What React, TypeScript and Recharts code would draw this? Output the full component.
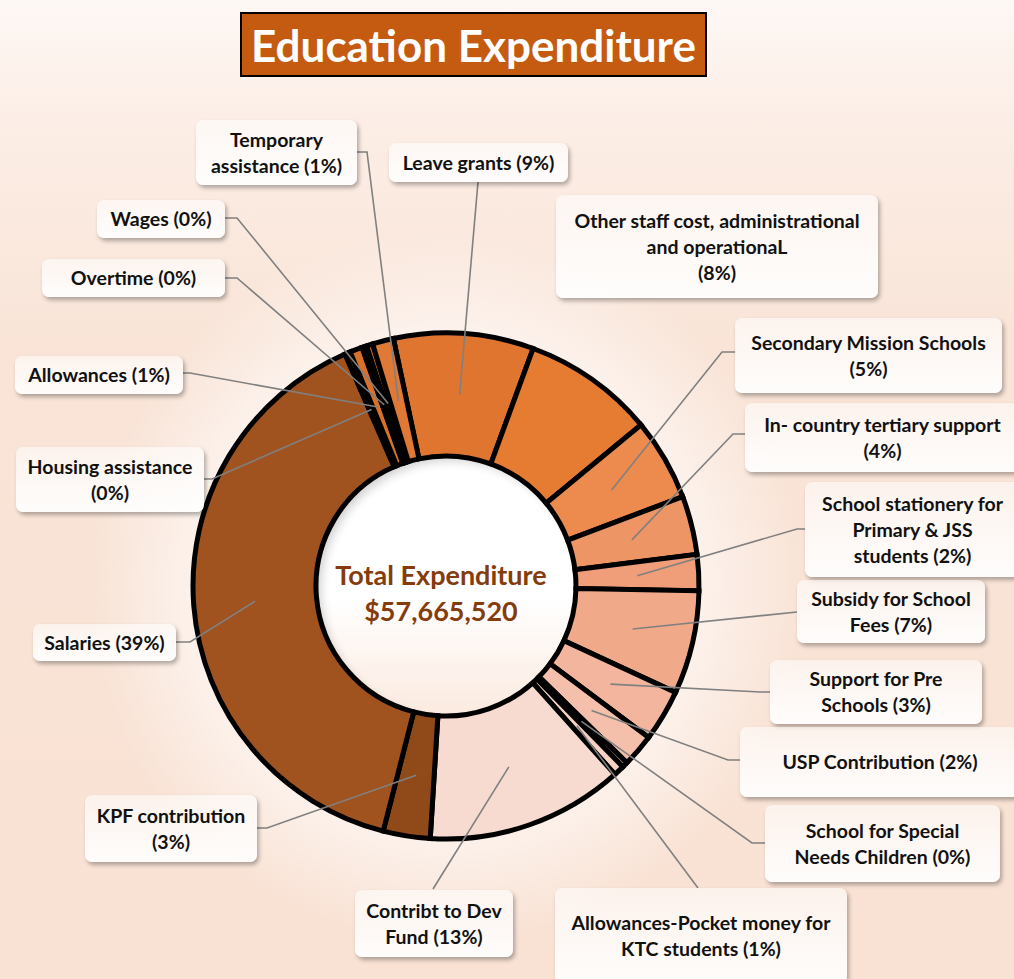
import React from 'react';
import { PieChart, Pie, Cell } from 'recharts';

// ---- data ----
const categories: string[] = [
  'Leave grants',
  'Other staff cost, administrational\nand operationaL',
  'Secondary Mission Schools',
  'In- country tertiary support',
  'School stationery for\nPrimary & JSS\nstudents',
  'Subsidy for School\nFees',
  'Support for Pre\nSchools',
  'USP Contribution',
  'School for Special\nNeeds Children',
  'Allowances-Pocket money for\nKTC students',
  'Contribt to Dev\nFund',
  'KPF contribution',
  'Salaries',
  'Housing assistance',
  'Allowances',
  'Overtime',
  'Wages',
  'Temporary\nassistance',
];

const amounts: number[] = [
  5150000, 4850000, 3027000, 2162000, 1326000, 3806000, 1909000, 1211000, 208000,
  398000, 7280520, 1730000, 22763000, 202000, 461000, 173000, 231000, 778000,
];

const percentSeparators: string[] = [
  ' ', '\n', '\n', '\n', ' ', ' ', ' ', ' ', ' ', ' ', ' ', '\n', ' ', '\n', ' ', ' ', ' ', ' ',
];

const titleText = 'Education Expenditure';
const centerCaption = 'Total Expenditure';

// ---- styles / layout ----
const sliceColors: string[] = [
  '#E07530', '#E67C31', '#ED8B4F', '#EE9566', '#EF9E79', '#F0AA8A', '#F3B59D', '#F4BFAB',
  '#F6C9B9', '#F7D1C3', '#F8DBD0', '#904A1A', '#A0521F', '#A8561F', '#D9702A', '#B85E22',
  '#C8682A', '#E07836',
];

type Box = { left: number; top: number; width: number; height: number };
const labelBoxes: Box[] = [
  { left: 389, top: 143, width: 179, height: 39 },
  { left: 556, top: 195, width: 322, height: 103 },
  { left: 735, top: 318, width: 267, height: 75 },
  { left: 745, top: 403, width: 275, height: 69 },
  { left: 805, top: 482, width: 215, height: 95 },
  { left: 797, top: 580, width: 188, height: 63 },
  { left: 770, top: 660, width: 212, height: 64 },
  { left: 740, top: 727, width: 280, height: 70 },
  { left: 765, top: 805, width: 235, height: 77 },
  { left: 555, top: 888, width: 292, height: 96 },
  { left: 355, top: 890, width: 158, height: 67 },
  { left: 85, top: 795, width: 172, height: 67 },
  { left: 33, top: 624, width: 143, height: 37 },
  { left: 16, top: 447, width: 188, height: 65 },
  { left: 15, top: 356, width: 168, height: 38 },
  { left: 42, top: 259, width: 183, height: 38 },
  { left: 97, top: 200, width: 128, height: 38 },
  { left: 196, top: 120, width: 161, height: 65 },
];

// leader: [attachX, attachY, elbowX, elbowY] or null
const leaders: (number[] | null)[] = [
  [478, 182, 478, 182],
  null,
  [735, 352, 722, 352],
  [745, 434, 733, 434],
  [805, 529, 797, 529],
  [797, 612, 797, 612],
  [770, 692, 760, 692],
  [740, 760, 728, 760],
  [765, 843, 752, 843],
  [698, 888, 698, 888],
  [433, 889, 433, 889],
  [257, 828, 267, 828],
  [176, 642, 190, 642],
  [204, 479, 212, 479],
  [183, 373, 190, 373],
  [225, 278, 237, 278],
  [225, 218, 237, 218],
  [357, 152, 367, 152],
];

const CX = 446;
const CY = 586;
const INNER = 130;
const OUTER = 253;
const RADIAN = Math.PI / 180;
const FONT = 'Lato, "Open Sans", sans-serif';

const data = categories.map((name, i) => ({ name, value: amounts[i] }));
const total = amounts.reduce((a, b) => a + b, 0);

const renderLeader = (props: any) => {
  const idx: number = typeof props.index === 'number' ? props.index : categories.indexOf(props.name);
  const l = leaders[idx];
  if (!l) return <g />;
  const cx = Number(props.cx);
  const cy = Number(props.cy);
  const r = (Number(props.innerRadius) + Number(props.outerRadius)) / 2;
  const x = cx + r * Math.cos(-props.midAngle * RADIAN);
  const y = cy + r * Math.sin(-props.midAngle * RADIAN);
  return (
    <polyline
      points={`${x},${y} ${l[2]},${l[3]} ${l[0]},${l[1]}`}
      fill="none"
      stroke="#808080"
      strokeWidth={1.6}
    />
  );
};

export default function App() {
  return (
    <div
      style={{
        position: 'absolute',
        left: 0,
        top: 0,
        width: 1014,
        height: 979,
        overflow: 'hidden',
        fontFamily: FONT,
        background:
          'linear-gradient(to bottom, #FEF8F5 0%, #FCEEE6 12%, #F9E4D7 35%, #F9E2D4 100%)',
      }}
    >
      {/* white glow around donut */}
      <div
        style={{
          position: 'absolute',
          left: CX - 420,
          top: CY - 420,
          width: 840,
          height: 840,
          borderRadius: '50%',
          background:
            'radial-gradient(circle, rgba(255,255,255,1) 0%, rgba(255,255,255,1) 33%, rgba(255,255,255,0.6) 40%, rgba(255,255,255,0) 60%)',
        }}
      />
      {/* inner hole */}
      <div
        style={{
          position: 'absolute',
          left: CX - INNER,
          top: CY - INNER,
          width: INNER * 2,
          height: INNER * 2,
          borderRadius: '50%',
          background: 'linear-gradient(to bottom, #FFFFFF 0%, #FFFFFF 55%, #FBEADF 100%)',
          boxShadow: 'inset 5px 5px 10px rgba(0,0,0,0.18)',
        }}
      />
      <PieChart
        width={1014}
        height={979}
        margin={{ top: 0, right: 0, bottom: 0, left: 0 }}
        style={{ position: 'absolute', left: 0, top: 0 }}
      >
        <Pie
          data={data}
          dataKey="value"
          nameKey="name"
          cx={CX}
          cy={CY}
          innerRadius={INNER}
          outerRadius={OUTER}
          startAngle={102}
          endAngle={-258}
          stroke="#000000"
          strokeWidth={5}
          label={renderLeader}
          labelLine={false}
          isAnimationActive={false}
        >
          {data.map((d, i) => (
            <Cell key={d.name} fill={sliceColors[i]} stroke="#000000" strokeWidth={5} />
          ))}
        </Pie>
      </PieChart>

      {/* center text */}
      <div
        style={{
          position: 'absolute',
          left: CX - 140,
          top: CY - 29,
          width: 270,
          textAlign: 'center',
          color: '#843C0C',
          fontWeight: 700,
          fontSize: 27,
          lineHeight: '36px',
        }}
      >
        <div>{centerCaption}</div>
        <div style={{ fontSize: 27 }}>{'$' + total.toLocaleString('en-US')}</div>
      </div>

      {/* title */}
      <div
        style={{
          position: 'absolute',
          left: 240,
          top: 12,
          width: 463,
          height: 61,
          background: '#C55A11',
          border: '2px solid #000',
          color: '#FFFFFF',
          fontWeight: 700,
          fontSize: 44,
          display: 'flex',
          alignItems: 'center',
          justifyContent: 'center',
        }}
      >
        {titleText}
      </div>

      {/* data labels */}
      {data.map((d, i) => {
        const b = labelBoxes[i];
        const pct = Math.round((d.value / total) * 100);
        return (
          <div
            key={d.name}
            style={{
              position: 'absolute',
              left: b.left,
              top: b.top,
              width: b.width,
              height: b.height,
              boxSizing: 'border-box',
              borderRadius: 7,
              background:
                'linear-gradient(to bottom, rgba(255,255,255,0.55) 0%, rgba(255,255,255,0.92) 100%)',
              boxShadow: '2px 3px 4px rgba(0,0,0,0.3)',
              display: 'flex',
              alignItems: 'center',
              justifyContent: 'center',
              textAlign: 'center',
              whiteSpace: 'pre-line',
              color: '#111',
              fontWeight: 700,
              fontSize: 19.5,
              lineHeight: '26px',
            }}
          >
            {`${d.name}${percentSeparators[i]}(${pct}%)`}
          </div>
        );
      })}
    </div>
  );
}
